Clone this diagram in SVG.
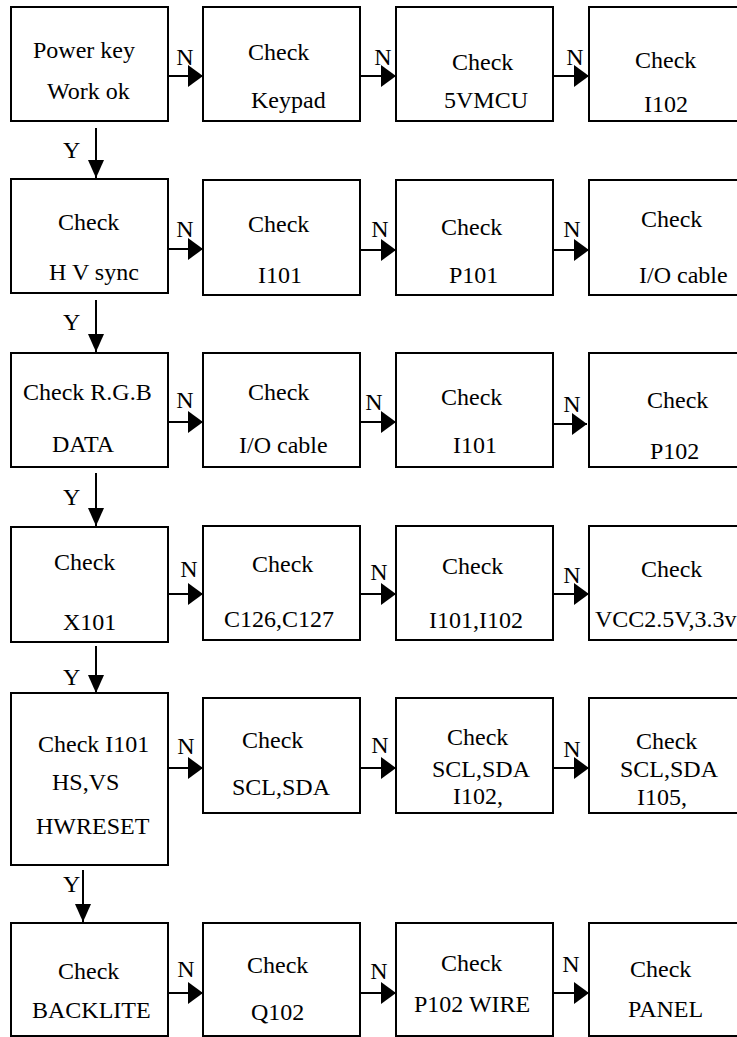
<svg xmlns="http://www.w3.org/2000/svg" width="737" height="1037" viewBox="0 0 737 1037">
<style>
.box{fill:#fff;stroke:#000;stroke-width:2}
text{font-family:"Liberation Serif","Times New Roman",serif;font-size:24px;fill:#000}
.lbl{text-anchor:middle}
.c{fill:none;stroke:#000;stroke-width:2}
</style>
<defs>
<marker id="ah" markerWidth="15" markerHeight="22" refX="15" refY="11" orient="auto" markerUnits="userSpaceOnUse"><path d="M0,0 L15,11 L0,22 z" fill="#000"/></marker>
<marker id="av" markerWidth="18" markerHeight="16" refX="18" refY="8" orient="auto" markerUnits="userSpaceOnUse"><path d="M0,0 L18,8 L0,16 z" fill="#000"/></marker>
</defs>
<rect width="737" height="1037" fill="#fff"/>

<g id="connectors">
<path class="c" d="M168,76 H203" marker-end="url(#ah)"/>
<path class="c" d="M360,76 H396" marker-end="url(#ah)"/>
<path class="c" d="M553,76 H589" marker-end="url(#ah)"/>
<path class="c" d="M168,249 H203" marker-end="url(#ah)"/>
<path class="c" d="M360,250 H396" marker-end="url(#ah)"/>
<path class="c" d="M553,250 H589" marker-end="url(#ah)"/>
<path class="c" d="M168,422 H203" marker-end="url(#ah)"/>
<path class="c" d="M360,422 H396" marker-end="url(#ah)"/>
<path class="c" d="M550,424 H587" marker-end="url(#ah)"/>
<path class="c" d="M168,594 H203" marker-end="url(#ah)"/>
<path class="c" d="M360,594 H396" marker-end="url(#ah)"/>
<path class="c" d="M553,594 H589" marker-end="url(#ah)"/>
<path class="c" d="M168,768 H203" marker-end="url(#ah)"/>
<path class="c" d="M360,768 H396" marker-end="url(#ah)"/>
<path class="c" d="M553,768 H589" marker-end="url(#ah)"/>
<path class="c" d="M168,993 H203" marker-end="url(#ah)"/>
<path class="c" d="M360,993 H396" marker-end="url(#ah)"/>
<path class="c" d="M553,993 H589" marker-end="url(#ah)"/>
<path class="c" d="M96,128 V178" marker-end="url(#av)"/>
<path class="c" d="M96,300 V352" marker-end="url(#av)"/>
<path class="c" d="M96,473 V526" marker-end="url(#av)"/>
<path class="c" d="M96,646 V693" marker-end="url(#av)"/>
<path class="c" d="M83,870 V922" marker-end="url(#av)"/>
<text class="lbl" x="185" y="65">N</text>
<text class="lbl" x="383" y="65">N</text>
<text class="lbl" x="575" y="65">N</text>
<text class="lbl" x="185" y="237">N</text>
<text class="lbl" x="380" y="237">N</text>
<text class="lbl" x="572" y="237">N</text>
<text class="lbl" x="185" y="408">N</text>
<text class="lbl" x="374" y="410">N</text>
<text class="lbl" x="572" y="412">N</text>
<text class="lbl" x="189" y="577">N</text>
<text class="lbl" x="379" y="580">N</text>
<text class="lbl" x="572" y="583">N</text>
<text class="lbl" x="186" y="754">N</text>
<text class="lbl" x="380" y="753">N</text>
<text class="lbl" x="572" y="757">N</text>
<text class="lbl" x="186" y="977">N</text>
<text class="lbl" x="379" y="979">N</text>
<text class="lbl" x="571" y="972">N</text>
<text x="63" y="158">Y</text>
<text x="63" y="330">Y</text>
<text x="63" y="505">Y</text>
<text x="63" y="685">Y</text>
<text x="63" y="892">Y</text>
</g>

<g id="n11"><rect class="box" x="11" y="7" width="157" height="114"/><text x="33" y="58">Power key</text><text x="47" y="99">Work ok</text></g>
<g id="n12"><rect class="box" x="203" y="7" width="157" height="114"/><text x="248" y="60">Check</text><text x="251" y="108">Keypad</text></g>
<g id="n13"><rect class="box" x="396" y="7" width="157" height="114"/><text x="452" y="70">Check</text><text x="444" y="108">5VMCU</text></g>
<g id="n14"><rect class="box" x="589" y="7" width="160" height="114"/><text x="635" y="68">Check</text><text x="644" y="112">I102</text></g>

<g id="n21"><rect class="box" x="11" y="179" width="157" height="114"/><text x="58" y="230">Check</text><text x="49" y="280">H V sync</text></g>
<g id="n22"><rect class="box" x="203" y="180" width="157" height="115"/><text x="248" y="232">Check</text><text x="258" y="283">I101</text></g>
<g id="n23"><rect class="box" x="396" y="180" width="157" height="115"/><text x="441" y="235">Check</text><text x="449" y="283">P101</text></g>
<g id="n24"><rect class="box" x="589" y="180" width="160" height="115"/><text x="641" y="227">Check</text><text x="639" y="283">I/O cable</text></g>

<g id="n31"><rect class="box" x="11" y="353" width="157" height="114"/><text x="23" y="400">Check R.G.B</text><text x="52" y="452">DATA</text></g>
<g id="n32"><rect class="box" x="203" y="353" width="157" height="114"/><text x="248" y="400">Check</text><text x="239" y="453">I/O cable</text></g>
<g id="n33"><rect class="box" x="396" y="353" width="157" height="114"/><text x="441" y="405">Check</text><text x="453" y="453">I101</text></g>
<g id="n34"><rect class="box" x="589" y="353" width="160" height="114"/><text x="647" y="408">Check</text><text x="650" y="459">P102</text></g>

<g id="n41"><rect class="box" x="11" y="527" width="157" height="115"/><text x="54" y="570">Check</text><text x="63" y="630">X101</text></g>
<g id="n42"><rect class="box" x="203" y="526" width="157" height="114"/><text x="252" y="572">Check</text><text x="224" y="627">C126,C127</text></g>
<g id="n43"><rect class="box" x="396" y="526" width="157" height="114"/><text x="442" y="574">Check</text><text x="429" y="628">I101,I102</text></g>
<g id="n44"><rect class="box" x="589" y="526" width="160" height="114"/><text x="641" y="577">Check</text><text x="595" y="627">VCC2.5V,3.3v</text></g>

<g id="n51"><rect class="box" x="11" y="693" width="157" height="172"/><text x="38" y="752">Check I101</text><text x="52" y="790">HS,VS</text><text x="36" y="834">HWRESET</text></g>
<g id="n52"><rect class="box" x="203" y="698" width="157" height="115"/><text x="242" y="748">Check</text><text x="232" y="795">SCL,SDA</text></g>
<g id="n53"><rect class="box" x="396" y="698" width="157" height="115"/><text x="447" y="745">Check</text><text x="432" y="777">SCL,SDA</text><text x="453" y="804">I102,</text></g>
<g id="n54"><rect class="box" x="589" y="698" width="160" height="115"/><text x="636" y="749">Check</text><text x="620" y="777">SCL,SDA</text><text x="637" y="805">I105,</text></g>

<g id="n61"><rect class="box" x="11" y="923" width="157" height="113"/><text x="58" y="979">Check</text><text x="32" y="1018">BACKLITE</text></g>
<g id="n62"><rect class="box" x="203" y="923" width="157" height="113"/><text x="247" y="973">Check</text><text x="251" y="1020">Q102</text></g>
<g id="n63"><rect class="box" x="396" y="923" width="157" height="113"/><text x="441" y="971">Check</text><text x="414" y="1012">P102 WIRE</text></g>
<g id="n64"><rect class="box" x="589" y="923" width="160" height="113"/><text x="630" y="977">Check</text><text x="628" y="1017">PANEL</text></g>
</svg>
